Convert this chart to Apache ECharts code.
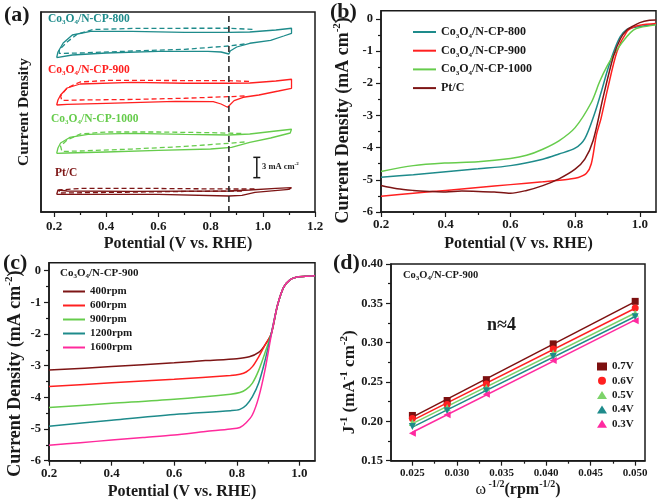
<!DOCTYPE html>
<html>
<head>
<meta charset="utf-8">
<script src="https://cdn.jsdelivr.net/npm/echarts@6/dist/echarts.min.js"></script>
<style>
  html, body { margin: 0; padding: 0; background: #fff; }
  #main { width: 660px; height: 502px; }
</style>
</head>
<body>
<div id="main"></div>
<script>
const SERIF = '"Liberation Serif", "DejaVu Serif", serif';
const INK = '#1a1a1a';

const TEAL = '#1e8b8b';
const RED = '#ff2020';
const GREEN = '#66cc4c';
const BROWN = '#7d1515';
const PINK = '#ff2a9c';

// ---- (a) CV loops, stacked, y in mA cm-2 (axis unlabeled) ----
const cv800Solid = [[0.21,23.15],[0.215,24.0],[0.235,25.35],[0.27,26.55],[0.34,27.08],[0.5,27.08],[0.7,26.93],[0.87,26.93],[0.95,27.0],[1.05,27.3],[1.11,27.56],[1.11,26.81],[1.08,26.4],[1.03,25.73],[0.95,25.31],[0.9,24.75],[0.875,24.15],[0.87,23.7],[0.84,24.0],[0.79,24.08],[0.6,24.08],[0.4,23.85],[0.27,23.55],[0.21,23.15]];
const cv800Dash = [[0.93,25.2],[0.87,24.9],[0.7,24.4],[0.5,24.15],[0.3,23.85],[0.22,23.78],[0.22,24.3],[0.25,25.5],[0.29,26.7],[0.35,27.38],[0.5,27.53],[0.7,27.56],[0.87,27.56],[0.97,27.38]];
const cv900Solid = [[0.21,16.05],[0.215,16.8],[0.225,17.55],[0.25,18.6],[0.3,19.2],[0.5,19.43],[0.7,19.31],[0.87,19.31],[0.95,19.35],[1.05,19.65],[1.11,19.91],[1.11,18.56],[1.06,18.15],[0.985,17.55],[0.925,17.21],[0.89,16.7],[0.865,15.71],[0.84,16.2],[0.81,16.55],[0.665,16.58],[0.4,16.28],[0.25,16.13],[0.21,16.05]];
const cv900Dash = [[0.93,17.4],[0.87,17.3],[0.7,17.06],[0.5,16.88],[0.3,16.8],[0.23,16.73],[0.225,17.4],[0.25,18.6],[0.3,19.5],[0.4,19.73],[0.6,19.73],[0.87,19.7],[0.95,19.58]];
const cv1000Solid = [[0.21,8.78],[0.215,9.6],[0.225,10.35],[0.26,11.18],[0.33,11.63],[0.5,11.78],[0.7,11.63],[0.87,11.55],[0.95,11.7],[1.05,12.15],[1.11,12.41],[1.105,11.85],[1.03,11.1],[0.95,10.43],[0.88,9.68],[0.8,9.45],[0.6,9.23],[0.4,9.0],[0.25,8.85],[0.21,8.78]];
const cv1000Dash = [[0.93,10.5],[0.87,10.31],[0.7,9.83],[0.5,9.45],[0.3,9.15],[0.23,9.08],[0.225,9.9],[0.25,10.8],[0.3,11.7],[0.4,12.0],[0.6,12.0],[0.8,11.9],[0.92,11.78]];
const cvPtSolid = [[0.21,2.63],[0.215,3.3],[0.25,3.15],[0.5,3.08],[0.87,3.15],[0.95,3.3],[1.05,3.53],[1.11,3.65],[1.1,3.38],[0.97,2.93],[0.92,2.48],[0.87,2.4],[0.6,2.63],[0.3,2.63],[0.21,2.63]];
const cvPtDash = [[0.92,3.15],[0.7,3.08],[0.4,2.93],[0.22,2.85],[0.22,3.3],[0.3,3.53],[0.6,3.53],[0.87,3.45],[0.97,3.45]];
const cvMarkerPotential = 0.87;
const scaleBarX = 0.977;
const scaleBarY = [5.15, 8.2];   // 3 mA cm-2

// ---- (b) LSV curves ----
const lsvNames = ['Co3O4/N-CP-800', 'Co3O4/N-CP-900', 'Co3O4/N-CP-1000', 'Pt/C'];
const lsv800 = [[0.2,-4.92],[0.3,-4.84],[0.4,-4.75],[0.5,-4.66],[0.6,-4.56],[0.7,-4.36],[0.75,-4.2],[0.8,-4.02],[0.83,-3.72],[0.86,-2.95],[0.88,-2.3],[0.9,-1.6],[0.92,-1.0],[0.94,-0.55],[0.96,-0.33],[0.98,-0.27],[1.0,-0.24],[1.05,-0.17]];
const lsv900 = [[0.2,-5.51],[0.3,-5.42],[0.4,-5.33],[0.5,-5.24],[0.6,-5.15],[0.7,-5.06],[0.78,-4.98],[0.81,-4.93],[0.835,-4.8],[0.85,-4.5],[0.866,-3.6],[0.88,-3.1],[0.9,-2.2],[0.93,-1.0],[0.96,-0.4],[0.98,-0.26],[1.0,-0.2],[1.05,-0.15]];
const lsv1000 = [[0.2,-4.74],[0.3,-4.56],[0.4,-4.48],[0.5,-4.44],[0.6,-4.34],[0.65,-4.24],[0.7,-4.05],[0.75,-3.79],[0.8,-3.38],[0.85,-2.6],[0.876,-1.95],[0.9,-1.45],[0.93,-0.95],[0.96,-0.55],[0.98,-0.35],[1.0,-0.27],[1.05,-0.19]];
const lsvPt = [[0.2,-5.18],[0.25,-5.28],[0.3,-5.33],[0.35,-5.36],[0.4,-5.38],[0.45,-5.35],[0.5,-5.36],[0.55,-5.38],[0.6,-5.42],[0.65,-5.33],[0.7,-5.18],[0.75,-4.97],[0.8,-4.67],[0.83,-4.36],[0.856,-3.77],[0.887,-2.42],[0.918,-1.18],[0.94,-0.62],[0.96,-0.35],[0.98,-0.22],[1.0,-0.12],[1.03,-0.05],[1.05,-0.04]];

// ---- (c) rotation-rate LSV ----
const rpmNames = ['400rpm', '600rpm', '900rpm', '1200rpm', '1600rpm'];
const rpmTail = [[0.93,-1.1],[0.95,-0.52],[0.97,-0.29],[0.99,-0.21],[1.02,-0.18],[1.05,-0.16]];
const rpm400 = [[0.2,-3.14],[0.4,-3.03],[0.6,-2.91],[0.7,-2.84],[0.8,-2.78],[0.84,-2.72],[0.87,-2.58],[0.89,-2.35],[0.91,-2.0]];
const rpm600 = [[0.2,-3.66],[0.4,-3.54],[0.6,-3.43],[0.78,-3.31],[0.81,-3.27],[0.83,-3.2],[0.85,-3.03],[0.87,-2.72],[0.89,-2.35],[0.91,-2.0]];
const rpm900 = [[0.2,-4.32],[0.4,-4.19],[0.6,-4.06],[0.78,-3.9],[0.81,-3.85],[0.83,-3.75],[0.85,-3.55],[0.87,-3.15],[0.89,-2.6],[0.91,-2.0]];
const rpm1200 = [[0.2,-4.91],[0.4,-4.72],[0.6,-4.54],[0.78,-4.42],[0.81,-4.38],[0.83,-4.25],[0.85,-3.98],[0.87,-3.55],[0.89,-2.85],[0.91,-2.0]];
const rpm1600 = [[0.2,-5.51],[0.3,-5.43],[0.4,-5.35],[0.5,-5.27],[0.6,-5.19],[0.7,-5.08],[0.78,-5.0],[0.81,-4.95],[0.83,-4.8],[0.85,-4.55],[0.87,-4.0],[0.89,-3.15],[0.91,-2.05]];

// ---- (d) Koutecky-Levich ----
const invSqrtOmega = [0.025, 0.0289, 0.0333, 0.0408, 0.05];
const klNames = ['0.7V', '0.6V', '0.5V', '0.4V', '0.3V'];
const kl07 = [0.2075, 0.2265, 0.2530, 0.2985, 0.3525];
const kl06 = [0.2035, 0.2215, 0.2475, 0.2920, 0.3440];
const kl05 = [0.1985, 0.2175, 0.2430, 0.2870, 0.3375];
const kl04 = [0.1935, 0.2135, 0.2390, 0.2825, 0.3330];
const kl03 = [0.1850, 0.2085, 0.2345, 0.2775, 0.3280];

// ---- ticks ----
const ticksPot = [0.2, 0.4, 0.6, 0.8, 1.0, 1.2];
const minorPot = [0.3, 0.5, 0.7, 0.9, 1.1];
const ticksJ = [-6, -5, -4, -3, -2, -1, 0];
const minorJ = [-5.5, -4.5, -3.5, -2.5, -1.5, -0.5];
const ticksOmega = [0.025, 0.03, 0.035, 0.04, 0.045, 0.05];
const minorOmega = [0.0275, 0.0325, 0.0375, 0.0425, 0.0475];
const ticksInvJ = [0.15, 0.2, 0.25, 0.3, 0.35, 0.4];
const minorInvJ = [0.175, 0.225, 0.275, 0.325, 0.375];

function richSet(size, color, weight) {
  const base = { fontFamily: SERIF, fontWeight: weight || 'bold', fontSize: size, lineHeight: Math.round(size * 1.25), color: color, fill: color };
  const small = Math.round(size * 0.62);
  return {
    n: base,
    w: Object.assign({}, base, { fontWeight: 'normal' }),
    s: Object.assign({}, base, { fontSize: small, lineHeight: small, verticalAlign: 'bottom' }),
    p: Object.assign({}, base, { fontSize: small, lineHeight: small, verticalAlign: 'top' })
  };
}
function coLabel(name) {
  if (name.indexOf('Co3O4') === 0) return '{n|Co}{s|3}{n|O}{s|4}{n|' + name.slice(5) + '}';
  return '{n|' + name + '}';
}

const grids = [
  { left: 41, top: 12, width: 274, height: 200 },
  { left: 381, top: 10.7, width: 275, height: 201.3 },
  { left: 49, top: 262.7, width: 266, height: 198 },
  { left: 391, top: 264, width: 254, height: 196.7 }
].map(g => Object.assign(g, { show: true, borderColor: INK, borderWidth: 1.5, backgroundColor: 'transparent', outerBoundsMode: 'none' }));

function mainAxis(grid, pos, min, max, ticks, fmt, lab, name) {
  return {
    type: 'value', gridIndex: grid, position: pos, min: min, max: max,
    axisLine: { show: true, onZero: false, lineStyle: { color: INK, width: 1.5 } },
    axisTick: { show: ticks.length > 0, inside: false, length: 5, customValues: ticks, lineStyle: { color: INK, width: 1.2 } },
    axisLabel: { show: ticks.length > 0, customValues: ticks, formatter: fmt, fontFamily: SERIF, fontWeight: 'bold',
      fontSize: lab.size, color: INK, margin: lab.margin },
    splitLine: { show: false },
    name: name.text, nameLocation: 'middle', nameGap: name.gap, nameMoveOverlap: false,
    nameTextStyle: { rich: richSet(name.size, INK), padding: name.padding || 0 }
  };
}
function minorAxis(grid, pos, min, max, ticks) {
  return {
    type: 'value', gridIndex: grid, position: pos, min: min, max: max,
    axisLine: { show: false, onZero: false },
    axisTick: { show: ticks.length > 0, inside: false, length: 3, customValues: ticks, lineStyle: { color: INK, width: 1.2 } },
    axisLabel: { show: false }, splitLine: { show: false }
  };
}

const f1 = v => v.toFixed(1);
const f0 = v => String(Math.round(v));
const f2 = v => v.toFixed(2);
const f3 = v => v.toFixed(3);

const xAxes = [
  mainAxis(0, 'bottom', 0.15, 1.2, ticksPot, f1, { size: 13, margin: 8 }, { text: '{n|Potential (V vs. RHE)}', gap: 22, size: 16 }),
  mainAxis(1, 'bottom', 0.2, 1.05, ticksPot.slice(0, 5), f1, { size: 13, margin: 6 }, { text: '{n|Potential (V vs. RHE)}', gap: 22, size: 16 }),
  mainAxis(2, 'bottom', 0.2, 1.05, ticksPot.slice(0, 5), f1, { size: 13, margin: 6 }, { text: '{n|Potential (V vs. RHE)}', gap: 21, size: 16 }),
  mainAxis(3, 'bottom', 0.0226, 0.0511, ticksOmega, f3, { size: 11, margin: 7 }, { text: '{w|ω}{p| -1/2}{n|(rpm}{p|-1/2}{n|)}', gap: 19, size: 16 }),
  minorAxis(0, 'bottom', 0.15, 1.2, minorPot),
  minorAxis(1, 'bottom', 0.2, 1.05, minorPot.slice(0, 4)),
  minorAxis(2, 'bottom', 0.2, 1.05, minorPot.slice(0, 4)),
  minorAxis(3, 'bottom', 0.0226, 0.0511, minorOmega)
];
const yAxes = [
  mainAxis(0, 'left', 0, 30, [], f0, { size: 12, margin: 8 }, { text: '{n|Current Density}', gap: 8, size: 15.5 }),
  mainAxis(1, 'left', -6, 0.25, ticksJ, f0, { size: 12.5, margin: 8 }, { text: '{n|Current Density (mA cm}{p|-2}{n|)}', gap: 26, size: 18, padding: [0, 18, 0, 0] }),
  mainAxis(2, 'left', -6, 0.25, ticksJ, f0, { size: 12.5, margin: 8 }, { text: '{n|Current Density (mA cm}{p|-2}{n|)}', gap: 22, size: 18, padding: [0, 24, 0, 0] }),
  mainAxis(3, 'left', 0.15, 0.40, ticksInvJ, f2, { size: 12.5, margin: 8 }, { text: '{n|J}{p|-1}{n| (mA}{p|-1}{n| cm}{p|-2}{n|)}', gap: 31, size: 17, padding: [0, 40, 0, 0] }),
  minorAxis(0, 'left', 0, 30, []),
  minorAxis(1, 'left', -6, 0.25, minorJ),
  minorAxis(2, 'left', -6, 0.25, minorJ),
  minorAxis(3, 'left', 0.15, 0.40, minorInvJ)
];

function line(grid, name, data, color, opts) {
  return Object.assign({
    type: 'line', name: name, xAxisIndex: grid, yAxisIndex: grid, data: data,
    symbol: 'none', silent: true, lineStyle: { color: color, width: 1.4 }, itemStyle: { color: color }
  }, opts || {});
}

const series = [];
// (a)
[[cv800Solid, cv800Dash, TEAL], [cv900Solid, cv900Dash, RED], [cv1000Solid, cv1000Dash, GREEN], [cvPtSolid, cvPtDash, BROWN]]
  .forEach((c, i) => {
    series.push(line(0, 'cvS' + i, c[0], c[2], { lineStyle: { color: c[2], width: 1.3 } }));
    series.push(line(0, 'cvD' + i, c[1], c[2], { lineStyle: { color: c[2], width: 1.3, type: [5, 3] } }));
  });
series.push(line(0, 'cvMark', [[cvMarkerPotential, 0], [cvMarkerPotential, 30]], '#2a2a2a', { lineStyle: { color: '#2a2a2a', width: 1.6, type: [6, 4] } }));
series.push(line(0, 'scaleBar', [[scaleBarX, scaleBarY[0]], [scaleBarX, scaleBarY[1]]], INK,
  { symbol: 'rect', symbolSize: [7, 1.5], lineStyle: { color: INK, width: 1.5 } }));

// (b)
[lsv800, lsv900, lsv1000, lsvPt].forEach((d, i) => {
  const col = [TEAL, RED, GREEN, BROWN][i];
  series.push(line(1, lsvNames[i], d, col, { smooth: 0.3, lineStyle: { color: col, width: 1.5 } }));
});

// (c)
[rpm400, rpm600, rpm900, rpm1200, rpm1600].forEach((d, i) => {
  const col = [BROWN, RED, GREEN, TEAL, PINK][i];
  series.push(line(2, rpmNames[i], d.concat(rpmTail), col, { smooth: 0.3, lineStyle: { color: col, width: 1.5 } }));
});

// (d) fitted lines then points
function fitLine(xs, ys) {
  const n = xs.length;
  const mx = xs.reduce((a, b) => a + b, 0) / n;
  const my = ys.reduce((a, b) => a + b, 0) / n;
  let sxy = 0, sxx = 0;
  for (let i = 0; i < n; i++) { sxy += (xs[i] - mx) * (ys[i] - my); sxx += (xs[i] - mx) ** 2; }
  const k = sxy / sxx, b = my - k * mx;
  return [[xs[0], b + k * xs[0]], [xs[n - 1], b + k * xs[n - 1]]];
}
const klSets = [kl07, kl06, kl05, kl04, kl03];
const klColors = ['#7d1010', '#ff2020', '#7dd36a', '#1e8b8b', '#ff2aa0'];
const klSymbols = [['rect', 0], ['circle', 0], ['triangle', 0], ['triangle', 180], ['triangle', 90]];
klSets.forEach((ys, i) => {
  series.push(line(3, 'fit' + klNames[i], fitLine(invSqrtOmega, ys), klColors[i], { lineStyle: { color: klColors[i], width: 1.5 } }));
});
klSets.forEach((ys, i) => {
  series.push({
    type: 'scatter', name: klNames[i], xAxisIndex: 3, yAxisIndex: 3, silent: true,
    data: ys.map((y, j) => [invSqrtOmega[j], y]),
    symbol: klSymbols[i][0], symbolRotate: klSymbols[i][1], symbolSize: 7,
    itemStyle: { color: klColors[i], opacity: 1 }, z: 3
  });
});

function legendBox(data, left, top, w, h, gap, size, icon) {
  const box = {
    data: data, left: left, top: top, orient: 'vertical', selectedMode: false,
    itemWidth: w, itemHeight: h, itemGap: gap, padding: 0,
    formatter: coLabel,
    textStyle: { fontFamily: SERIF, fontWeight: 'bold', fontSize: size, color: INK, rich: richSet(size, INK) }
  };
  if (icon) box.icon = icon;
  return box;
}

function label(x, y, text, size, color, weight) {
  return {
    type: 'text', x: x, y: y, silent: true,
    style: { text: text, rich: richSet(size, color, weight), fill: color, fontFamily: SERIF, fontWeight: weight || 'bold', fontSize: size, align: 'left', verticalAlign: 'middle' }
  };
}

const option = {
  animation: false,
  backgroundColor: '#fff',
  grid: grids,
  xAxis: xAxes,
  yAxis: yAxes,
  legend: [
    legendBox(lsvNames, 413, 26, 23, 2, 5.2, 12, 'rect'),
    legendBox(rpmNames, 63, 286, 22, 2, 3, 11, 'rect'),
    legendBox(klNames, 597, 361, 10, 8, 3.3, 11)
  ],
  graphic: [
    label(4, 15, '{n|(a)}', 22, INK),
    label(330, 12, '{n|(b)}', 22, INK),
    label(3, 263, '{n|(c)}', 22, INK),
    label(333, 263, '{n|(d)}', 22, INK),
    label(48, 19, coLabel('Co3O4/N-CP-800'), 11.5, TEAL),
    label(48, 70, coLabel('Co3O4/N-CP-900'), 11.5, RED),
    label(51, 119, coLabel('Co3O4/N-CP-1000'), 11.5, GREEN),
    label(55, 173, '{n|Pt/C}', 11.5, BROWN),
    label(262, 167, '{n|3 mA cm}{p|-2}', 8.5, INK),
    label(60, 273, coLabel('Co3O4/N-CP-900'), 11, INK),
    label(403, 275, coLabel('Co3O4/N-CP-900'), 10.5, INK),
    label(487, 325, '{n|n≈4}', 18, INK)
  ],
  series: series
};

const chart = echarts.init(document.getElementById('main'), null, { renderer: 'canvas' });
chart.setOption(option);
</script>
</body>
</html>
